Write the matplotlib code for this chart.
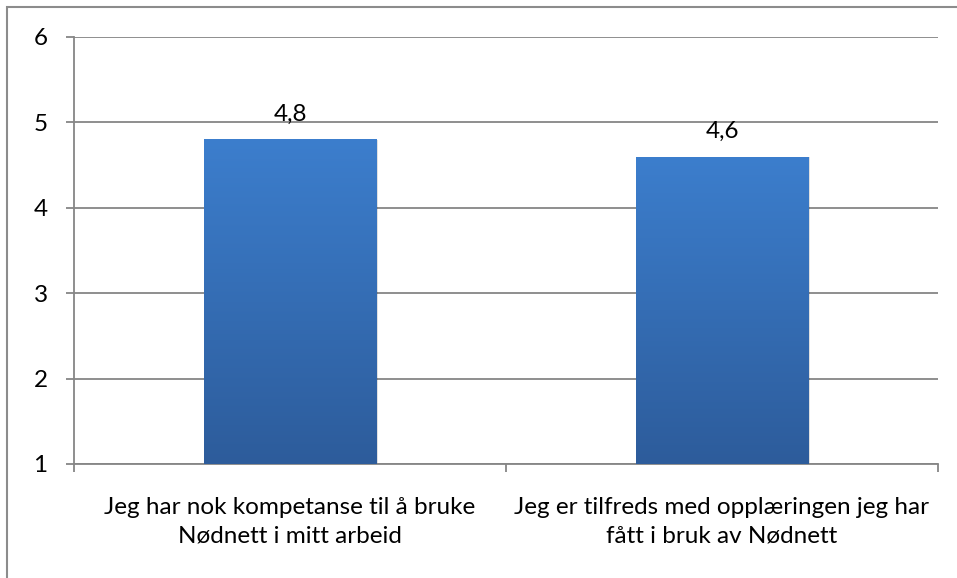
import matplotlib
matplotlib.use("Agg")
import matplotlib.pyplot as plt
import numpy as np
from matplotlib.colors import LinearSegmentedColormap
from matplotlib.patches import Rectangle

plt.rcParams['font.family'] = ['Lato', 'DejaVu Sans']

categories = ["Jeg har nok kompetanse til å bruke\nNødnett i mitt arbeid",
              "Jeg er tilfreds med opplæringen jeg har\nfått i bruk av Nødnett"]
values = [4.8, 4.6]
value_labels = ["4,8", "4,6"]
yticks = [1, 2, 3, 4, 5, 6]

grid_col = "#868686"
cmap = LinearSegmentedColormap.from_list("bar", ["#2d5c9b", "#3c7ecd"])
fs = 17.5

fig = plt.figure(figsize=(9.57, 5.78), dpi=100)
ax = fig.add_axes([74 / 957, 1 - 464 / 578, 864 / 957, 427 / 578])

# outer chart border (top and left visible only)
fig.patches.append(Rectangle((7 / 957, -0.1), 1.2, (571 / 578) + 0.1,
                             transform=fig.transFigure, fill=False,
                             edgecolor="#8c8c8c", linewidth=1.5))

x = np.arange(len(values))
bars = ax.bar(x, [v - 1 for v in values], bottom=1, width=0.4, color="none", zorder=3)

grad = np.linspace(0, 1, 256).reshape(-1, 1)
for b, v, lab in zip(bars, values, value_labels):
    x0 = b.get_x()
    w = b.get_width()
    # soft shadow
    ax.add_patch(Rectangle((x0 + 0.004, 1), w, v - 1 - 0.01, facecolor="#000000",
                           alpha=0.12, edgecolor="none", zorder=2))
    im = ax.imshow(grad, extent=(x0, x0 + w, 1, v), origin="lower", cmap=cmap,
                   aspect="auto", zorder=3)
    im.set_clip_path(b)
    ax.text(x0 + w / 2, v + 0.22, lab, ha="center", va="baseline", fontsize=fs,
            color="#000000")

ax.set_xlim(-0.5, 1.5)
ax.set_ylim(1, 6)
ax.set_yticks(yticks)
ax.set_yticklabels([str(t) for t in yticks], fontsize=fs)
ax.yaxis.grid(True, color=grid_col, linewidth=1.3, zorder=0)
ax.set_axisbelow(True)

ax.set_xticks(x)
ax.set_xticklabels(categories, fontsize=fs, linespacing=1.45)
ax.set_xticks([-0.5, 0.5, 1.5], minor=True)
ax.tick_params(axis="x", which="major", length=0, pad=24)
ax.tick_params(axis="x", which="minor", length=6, width=1.3, color=grid_col)
ax.tick_params(axis="y", length=6, width=1.3, color=grid_col, pad=13)

for s in ["top", "right"]:
    ax.spines[s].set_visible(False)
for s in ["left", "bottom"]:
    ax.spines[s].set_color(grid_col)
    ax.spines[s].set_linewidth(1.3)

fig.savefig("out.png", dpi=100)
